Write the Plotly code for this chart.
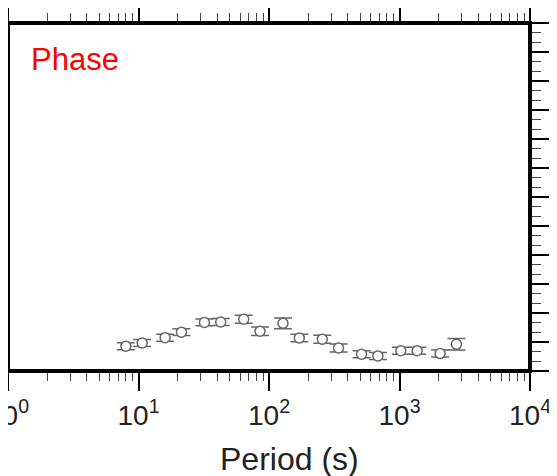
import plotly.graph_objects as go

# Data
periods = [8.0, 10.67, 16.0, 21.33, 32.0, 42.67, 64.0, 85.33, 128.0, 170.67,
           256.0, 341.33, 512.0, 682.67, 1024.0, 1365.33, 2048.0, 2730.67]
phase = [-154.4, -151.0, -145.5, -139.8, -129.7, -129.3, -126.5, -138.9, -130.7,
         -145.9, -147.2, -156.2, -162.7, -164.4, -159.0, -159.0, -162.0, -152.4]
phase_err = [3.6, 3.6, 3.6, 3.6, 3.6, 3.6, 4.1, 4.3, 5.5,
             3.9, 4.1, 4.1, 3.6, 3.6, 3.6, 3.6, 3.6, 5.9]

x_tickvals = [1, 10, 100, 1000, 10000]
x_ticktext = ["10<sup>0</sup>", "10<sup>1</sup>", "10<sup>2</sup>", "10<sup>3</sup>", "10<sup>4</sup>"]

gray = "#666666"

fig = go.Figure()
fig.add_trace(go.Scatter(
    x=periods, y=phase, mode="markers",
    marker=dict(symbol="circle", size=10, color="white",
                line=dict(color=gray, width=1.5)),
    error_y=dict(type="data", array=phase_err, visible=True,
                 color=gray, thickness=1.5, width=9),
    showlegend=False,
))

fig.update_layout(
    width=557, height=476,
    margin=dict(l=0, r=35, t=15, b=113, autoexpand=False),
    paper_bgcolor="white", plot_bgcolor="white",
    font=dict(family="Liberation Sans, Arial, sans-serif", color="#222222"),
    xaxis=dict(
        type="log", range=[0, 4], automargin=False,
        tickmode="array", tickvals=x_tickvals, ticktext=x_ticktext,
        ticks="outside", ticklen=19, tickwidth=2, tickcolor="black",
        mirror="allticks", showline=False, showgrid=False, zeroline=False,
        tickfont=dict(size=28, family="Liberation Sans, Arial, sans-serif", color="#222222"),
        ticklabeloverflow="allow",
        minor=dict(ticks="outside", ticklen=9, tickwidth=1, tickcolor="#444444",
                   dtick="D1", showgrid=False),
    ),
    yaxis=dict(
        range=[-180, 180], dtick=30, tick0=0, automargin=False,
        ticks="outside", ticklen=19, tickwidth=2, tickcolor="black",
        mirror="allticks", showline=False, showgrid=False, zeroline=False,
        showticklabels=False,
        minor=dict(ticks="outside", ticklen=10, tickwidth=1, tickcolor="#444444",
                   dtick=10, showgrid=False),
    ),
    shapes=[dict(type="rect", xref="paper", yref="paper", x0=0, y0=0, x1=1, y1=1,
                 line=dict(color="black", width=4), layer="above")],
    annotations=[
        dict(text="Phase", xref="paper", yref="paper", x=0.04, y=0.894,
             xanchor="left", yanchor="middle", showarrow=False,
             font=dict(family="Liberation Sans Narrow, Arial Narrow, Liberation Sans, sans-serif",
                       size=31, color="red")),
        dict(text="Period (s)", xref="paper", yref="paper", x=0.54, y=-0.253,
             xanchor="center", yanchor="middle", showarrow=False,
             font=dict(family="Liberation Sans, Arial, sans-serif", size=32, color="#222222")),
    ],
)

fig.write_html("out.html")
